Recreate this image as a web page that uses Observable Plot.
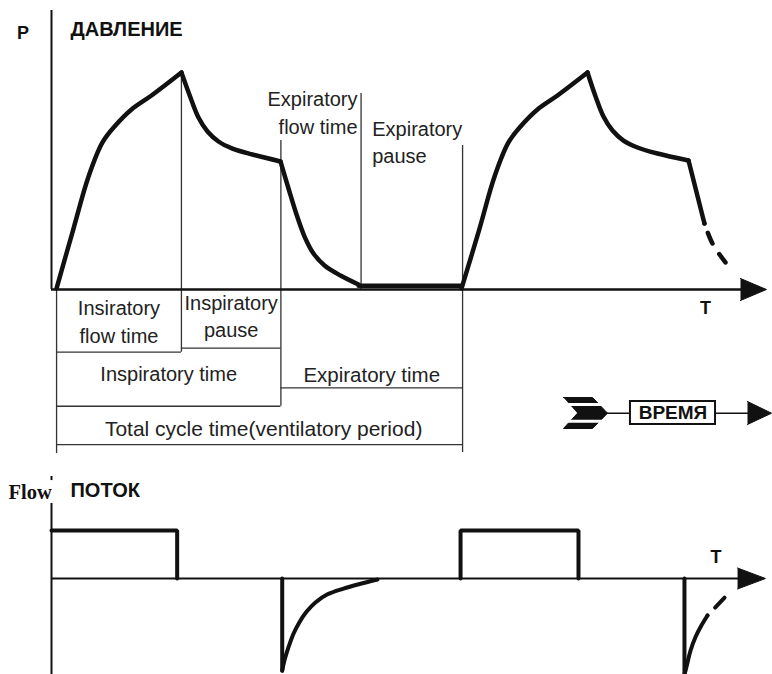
<!DOCTYPE html>
<html>
<head>
<meta charset="utf-8">
<script src="https://cdn.jsdelivr.net/npm/d3@7"></script>
<script src="https://cdn.jsdelivr.net/npm/@observablehq/plot@0.6"></script>
<style>
  html, body { margin: 0; padding: 0; background: #fff; }
  #chart svg { display: block; }
</style>
</head>
<body>
<div id="chart"></div>
<script>
// ---------- DATA (time in s, pressure in cmH2O, flow in L/s) ----------
const phaseTimes = [0.05, 1.28, 2.26, 3.05, 4.05]; // start, end insp flow, end insp pause, end exp flow, end cycle
const phaseNames = ["Insiratory\nflow time", "Inspiratory\npause", "Expiratory\nflow time", "Expiratory\npause"];
const periodNames = ["Inspiratory time", "Expiratory time", "Total cycle time(ventilatory period)"];

// pressure waveform, segment by segment: [time, pressure]
const pRise1  = [[0.05,0.1],[0.217,5.62],[0.365,10.41],[0.502,13.55],[0.621,15.02],[0.788,16.59],[0.985,17.88],[1.28,20.0]];
const pDecay1 = [[1.28,20.0],[1.369,17.70],[1.448,15.85],[1.537,14.56],[1.645,13.64],[1.783,12.99],[1.980,12.44],[2.256,11.80]];
const pDrop1  = [[2.256,11.80],[2.335,9.31],[2.414,6.91],[2.493,4.88],[2.581,3.32],[2.690,2.21],[2.847,1.29],[3.025,0.46]];
const pFlat1  = [[3.025,0.35],[4.03,0.35]];
const pRise2  = [[4.04,0.1],[4.217,5.62],[4.365,10.41],[4.502,13.55],[4.621,15.02],[4.788,16.59],[4.985,17.88],[5.281,20.0]];
const pDecay2 = [[5.281,20.0],[5.360,17.79],[5.438,15.94],[5.527,14.65],[5.635,13.73],[5.773,13.09],[5.970,12.53],[6.276,11.89]];
const pDrop2  = [[6.276,11.89],[6.433,6.08]];
const pDrop2Dashed = [[6.433,6.08],[6.512,4.24],[6.640,2.49]];

// flow waveform: [time, flow]
const fInsp1 = [[0,1],[1.238,1],[1.238,0]];
const fExp1Step = [[2.273,0],[2.273,-1.92]];
const fExp1Curve = [[2.273,-1.92],[2.296,-1.70],[2.340,-1.40],[2.384,-1.15],[2.440,-0.92],[2.510,-0.70],[2.600,-0.50],[2.719,-0.33],[2.877,-0.21],[3.044,-0.11],[3.212,-0.02]];
const fInsp2 = [[4.03,0],[4.03,1],[5.192,1],[5.192,0]];
const fExp2Step = [[6.236,0],[6.236,-2.0]];
const fExp2Curve = [[6.236,-2.0],[6.256,-1.84],[6.296,-1.50],[6.345,-1.22],[6.400,-0.99],[6.463,-0.77]];
const fExp2Dashed = [[6.463,-0.77],[6.631,-0.40]];

// ---------- helpers ----------
const [tStart, tFlowEnd, tPauseEnd, tExpFlowEnd, tCycleEnd] = phaseTimes;
const mid = (a, b) => (a + b) / 2;
const X = d => d[0], Y = d => d[1];
const INK = "#111";
const FONT = "Liberation Sans, Arial, Helvetica, sans-serif";

// annotation grid (drawn below the pressure baseline, in pressure units)
const vRules = [
  {t: tStart, y1: 0, y2: -15.12},
  {t: tFlowEnd, y1: 20, y2: -5.78},
  {t: tPauseEnd, y1: 13.73, y2: -10.76},
  {t: tExpFlowEnd, y1: 18.06, y2: 0},
  {t: tCycleEnd, y1: 13.27, y2: -15.02}
];
const hRules = [
  {p: -5.78, x1: tStart, x2: tFlowEnd},
  {p: -5.41, x1: tFlowEnd, x2: tPauseEnd},
  {p: -9.06, x1: tPauseEnd, x2: tCycleEnd},
  {p: -10.76, x1: tStart, x2: tPauseEnd},
  {p: -14.29, x1: tStart, x2: tCycleEnd}
];
const centerLabels = [
  {text: phaseNames[0], t: mid(tStart, tFlowEnd), p: -4.90, size: 20},
  {text: phaseNames[1], t: mid(tFlowEnd, tPauseEnd), p: -4.42, size: 20},
  {text: periodNames[0], t: mid(tStart, tPauseEnd), p: -8.39, size: 20},
  {text: periodNames[1], t: mid(tPauseEnd, tCycleEnd), p: -8.54, size: 20.5},
  {text: periodNames[2], t: mid(tStart, tCycleEnd) + 0.04, p: -13.46, size: 21}
];
const endLabels = [{text: phaseNames[2], t: tExpFlowEnd - 0.035, p: 14.29}];
const startLabels = [{text: phaseNames[3], t: tExpFlowEnd + 0.11, p: 11.70}];

// axis arrowheads & legend glyph
const pArrow = [[6.788,1.014],[7.044,0],[6.788,-1.014]];
const fArrow = [[6.759,0.219],[7.034,0],[6.759,-0.219]];
const feather = [[5.044,-9.954],[5.330,-9.954],[5.478,-11.401],[5.330,-12.811],[5.044,-12.811],[5.182,-11.401]];
const featherStripes = [{p: -10.60}, {p: -12.15}];
const legendArrow = [[6.857,-10.323],[7.094,-11.401],[6.857,-12.442]];

const xDomain = [-0.50246, 7.1034];

// ---------- PRESSURE PANEL ----------
const pressurePlot = Plot.plot({
  width: 772, height: 462, margin: 0,
  x: {domain: xDomain, axis: null},
  y: {domain: [-15.945, 26.636], axis: null},
  style: {background: "#fff", overflow: "visible"},
  marks: [
    // annotation grid
    Plot.ruleX(vRules, {x: "t", y1: "y1", y2: "y2", stroke: "#333", strokeWidth: 1.3}),
    Plot.ruleY(hRules, {y: "p", x1: "x1", x2: "x2", stroke: "#333", strokeWidth: 1.3}),
    // axes
    Plot.ruleX([0], {y1: 0, y2: 25.71, stroke: INK, strokeWidth: 2}),
    Plot.ruleY([0], {x1: 0, x2: 6.8, stroke: INK, strokeWidth: 2.5}),
    Plot.line(pArrow, {x: X, y: Y, fill: INK, stroke: INK, strokeWidth: 1}),
    // pressure curve
    ...[pRise1, pDecay1, pDrop1, pRise2, pDecay2].map(seg =>
      Plot.line(seg, {x: X, y: Y, curve: "catmull-rom", stroke: INK, strokeWidth: 4.5, strokeLinejoin: "round", strokeLinecap: "round"})),
    ...[pFlat1, pDrop2].map(seg =>
      Plot.line(seg, {x: X, y: Y, stroke: INK, strokeWidth: 4.5, strokeLinecap: "round"})),
    Plot.line(pDrop2Dashed, {x: X, y: Y, curve: "catmull-rom", stroke: INK, strokeWidth: 4.5, strokeDasharray: "0,10,11.5,12.5,10.5"}),
    // labels
    Plot.text(centerLabels, {x: "t", y: "p", text: "text", fontSize: "size", textAnchor: "middle", lineAnchor: "bottom", lineHeight: 1.38, fontFamily: FONT, fill: "#222"}),
    Plot.text(endLabels, {x: "t", y: "p", text: "text", textAnchor: "end", lineAnchor: "bottom", lineHeight: 1.4, fontSize: 20, fontFamily: FONT, fill: "#222"}),
    Plot.text(startLabels, {x: "t", y: "p", text: "text", textAnchor: "start", lineAnchor: "bottom", lineHeight: 1.35, fontSize: 20, fontFamily: FONT, fill: "#222"}),
    Plot.text(["P"], {x: -0.281, y: 23.13, text: d => d, textAnchor: "middle", lineAnchor: "bottom", fontSize: 18, fontWeight: "bold", fontFamily: FONT, fill: INK}),
    Plot.text(["ДАВЛЕНИЕ"], {x: 0.187, y: 23.32, text: d => d, textAnchor: "start", lineAnchor: "bottom", fontSize: 20, fontWeight: "bold", fontFamily: FONT, fill: INK}),
    Plot.text(["T"], {x: 6.443, y: -2.30, text: d => d, textAnchor: "middle", lineAnchor: "bottom", fontSize: 18, fontWeight: "bold", fontFamily: FONT, fill: INK}),
    // ВРЕМЯ legend
    Plot.ruleY([-11.401], {x1: 5.4, x2: 6.9, stroke: INK, strokeWidth: 1.5}),
    Plot.line(feather, {x: X, y: Y, fill: INK, stroke: INK, strokeWidth: 1}),
    Plot.ruleY(featherStripes, {y: "p", x1: 5.03, x2: 5.48, stroke: "#fff", strokeWidth: 3}),
    Plot.rect([0], {x1: 5.704, x2: 6.542, y1: -10.323, y2: -12.442, fill: "#fff", stroke: INK, strokeWidth: 2}),
    Plot.text(["ВРЕМЯ"], {x: 6.123, y: -11.98, text: d => d, textAnchor: "middle", lineAnchor: "bottom", fontSize: 19, fontWeight: "bold", fontFamily: FONT, fill: INK}),
    Plot.line(legendArrow, {x: X, y: Y, fill: INK, stroke: INK, strokeWidth: 1})
  ]
});

// ---------- FLOW PANEL ----------
const flowPlot = Plot.plot({
  width: 772, height: 212, margin: 0,
  x: {domain: xDomain, axis: null},
  y: {domain: [-2, 2.4167], axis: null},
  style: {background: "#fff", overflow: "visible"},
  marks: [
    Plot.ruleX([0], {y1: 1.5625, y2: -2, stroke: INK, strokeWidth: 2}),
    Plot.ruleX([0], {y1: 2.04, y2: 2.125, stroke: INK, strokeWidth: 2}),
    Plot.ruleY([0], {x1: 0, x2: 6.77, stroke: INK, strokeWidth: 2}),
    Plot.line(fArrow, {x: X, y: Y, fill: INK, stroke: INK, strokeWidth: 1}),
    ...[fInsp1, fInsp2, fExp1Step, fExp2Step].map(seg =>
      Plot.line(seg, {x: X, y: Y, stroke: INK, strokeWidth: 4, strokeLinejoin: "miter"})),
    ...[fExp1Curve, fExp2Curve].map(seg =>
      Plot.line(seg, {x: X, y: Y, curve: "catmull-rom", stroke: INK, strokeWidth: 4, strokeLinecap: "round"})),
    Plot.line(fExp2Dashed, {x: X, y: Y, stroke: INK, strokeWidth: 4, strokeDasharray: "0,11,14"}),
    Plot.text(["Flow"], {x: -0.4236, y: 1.646, text: d => d, textAnchor: "start", lineAnchor: "bottom", fontSize: 20.5, fontWeight: "bold", fontFamily: "Liberation Serif, Times New Roman, serif", fill: INK}),
    Plot.text(["ПОТОК"], {x: 0.187, y: 1.708, text: d => d, textAnchor: "start", lineAnchor: "bottom", fontSize: 20, fontWeight: "bold", fontFamily: FONT, fill: INK}),
    Plot.text(["T"], {x: 6.547, y: 0.333, text: d => d, textAnchor: "middle", lineAnchor: "bottom", fontSize: 18, fontWeight: "bold", fontFamily: FONT, fill: INK})
  ]
});

const chart = document.getElementById("chart");
chart.appendChild(pressurePlot);
chart.appendChild(flowPlot);
</script>
</body>
</html>
